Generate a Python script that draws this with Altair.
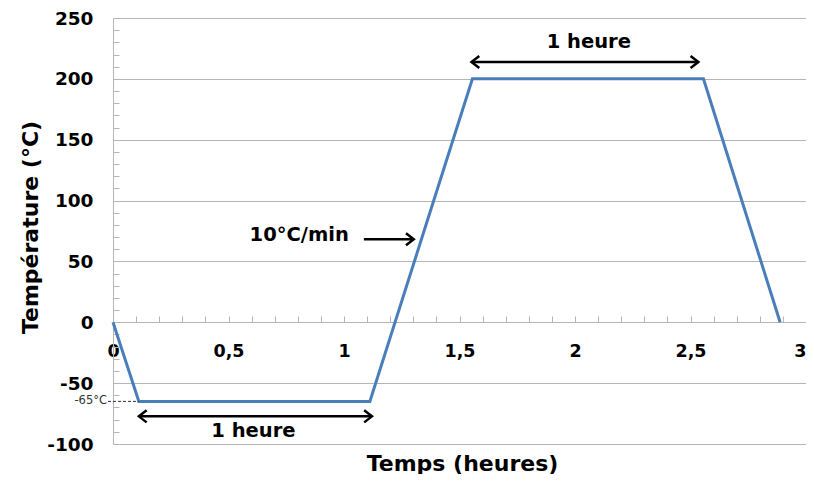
import altair as alt
import pandas as pd

# Temperature profile
time_h = [0, 0.112, 1.112, 1.556, 2.556, 2.888]
temp_c = [0, -65, -65, 200, 200, 0]

# Annotation labels
ann_text = ["1 heure", "1 heure", "10°C/min"]
ann_x = [0.608, 2.060, 0.806]
ann_y = [-89.3, 230.3, 71.5]

# Arrows
arrow_x1 = [0.112, 1.552, 1.086]
arrow_x2 = [1.121, 2.534, 1.302]
arrow_y = [-77.3, 213.8, 68.3]
arrow_double = [True, True, False]

# -65°C marker
marker_label = ["-65°C"]
marker_x1 = [-0.0216]
marker_x2 = [0.112]
marker_y = [-65]

x_ticks_major = [0, 0.5, 1, 1.5, 2, 2.5, 3]
x_ticks_minor = [i / 10 for i in range(31)]
y_ticks_major = [-100, -50, 0, 50, 100, 150, 200, 250]
y_ticks_minor = list(range(-100, 251, 10))

W, H = 693, 426
FONT = "DejaVu Sans"
GRID = "#b4b4b4"

line_df = pd.DataFrame({"t": time_h, "T": temp_c})
ann_df = pd.DataFrame({"label": ann_text, "x": ann_x, "y": ann_y})
arr_df = pd.DataFrame({"x1": arrow_x1, "x2": arrow_x2, "y": arrow_y, "double": arrow_double})
mk_df = pd.DataFrame({"label": marker_label, "x1": marker_x1, "x2": marker_x2, "y": marker_y})

xs = alt.Scale(domain=[0, 3], nice=False, zero=False)
ys = alt.Scale(domain=[-100, 250], nice=False, zero=False)

line = alt.Chart(line_df).mark_line(color="#4a7ebb", strokeWidth=3).encode(
    x=alt.X("t:Q", scale=xs, axis=alt.Axis(
        orient="top", offset=-304, values=x_ticks_minor, tickSize=6,
        tickColor=GRID, domainColor=GRID, labels=False, grid=False, title=None)),
    y=alt.Y("T:Q", scale=ys, axis=alt.Axis(
        orient="left", values=y_ticks_major, grid=True, gridColor=GRID,
        domainColor=GRID, ticks=False, tickSize=0, labelPadding=20,
        labelExpr="toString(datum.value)",
        labelFont=FONT, labelFontSize=18.5, labelFontWeight="bold", labelColor="#000",
        title="Température (°C)", titleFont=FONT, titleFontSize=22,
        titleFontWeight="bold", titleColor="#000", titleAngle=270,
        titleX=-83, titleY=209, titleAlign="center", titleBaseline="middle")),
)

axes2 = alt.Chart(line_df).mark_point(opacity=0).encode(
    x=alt.X("t:Q", scale=xs, axis=alt.Axis(
        orient="bottom", offset=-122, values=x_ticks_major, ticks=False,
        domain=False, grid=False, labelPadding=20, labelFlush=False,
        labelAlign=alt.condition("datum.value == 3", alt.value("right"), alt.value("center")),
        labelExpr="replace(toString(datum.value), '.', ',')",
        labelFont=FONT, labelFontSize=17.5, labelFontWeight="bold", labelColor="#000",
        title="Temps (heures)", titleFont=FONT, titleFontSize=22,
        titleFontWeight="bold", titleColor="#000",
        titleX=349, titleY=141, titleAlign="center", titleBaseline="middle")),
    y=alt.Y("T:Q", scale=ys, axis=alt.Axis(
        orient="right", offset=-W, values=y_ticks_minor, tickSize=6,
        tickColor=GRID, domain=False, labels=False, grid=False, title=None)),
)

texts = alt.Chart(ann_df).mark_text(
    font=FONT, fontSize=19.5, fontWeight="bold", color="#000",
    align="center", baseline="middle").encode(
    x=alt.X("x:Q", scale=xs, axis=None), y=alt.Y("y:Q", scale=ys, axis=None), text="label:N")

arrows = alt.Chart(arr_df).mark_rule(color="#000", strokeWidth=2.5).encode(
    x=alt.X("x1:Q", scale=xs, axis=None), x2="x2:Q", y=alt.Y("y:Q", scale=ys, axis=None))

heads_r = alt.Chart(arr_df).mark_point(
    shape="M-1.1,-0.85L0,0L-1.1,0.85", size=200, filled=False,
    color="#000", strokeWidth=2.5, opacity=1).encode(
    x=alt.X("x2:Q", scale=xs, axis=None), y=alt.Y("y:Q", scale=ys, axis=None))

heads_l = alt.Chart(arr_df).transform_filter("datum.double").mark_point(
    shape="M1.1,-0.85L0,0L1.1,0.85", size=200, filled=False,
    color="#000", strokeWidth=2.5, opacity=1).encode(
    x=alt.X("x1:Q", scale=xs, axis=None), y=alt.Y("y:Q", scale=ys, axis=None))

mk_rule = alt.Chart(mk_df).mark_rule(color="#333", strokeWidth=1, strokeDash=[3, 2]).encode(
    x=alt.X("x1:Q", scale=xs, axis=None), x2="x2:Q", y=alt.Y("y:Q", scale=ys, axis=None))

mk_text = alt.Chart(mk_df).mark_text(
    font=FONT, fontSize=11.5, color="#333", align="right", baseline="middle", dx=-1).encode(
    x=alt.X("x1:Q", scale=xs, axis=None), y=alt.Y("y:Q", scale=ys, axis=None), text="label:N")

chart = alt.layer(line, axes2, mk_rule, mk_text, arrows, heads_r, heads_l, texts).resolve_axis(
    x="independent", y="independent"
).properties(
    width=W, height=H,
    autosize=alt.AutoSizeParams(type="none"),
    padding={"left": 105, "top": 10, "right": 0, "bottom": 30},
    background="white",
).configure_view(stroke=None)

chart.save("out.html", embed_options={"renderer": "svg", "actions": False})
